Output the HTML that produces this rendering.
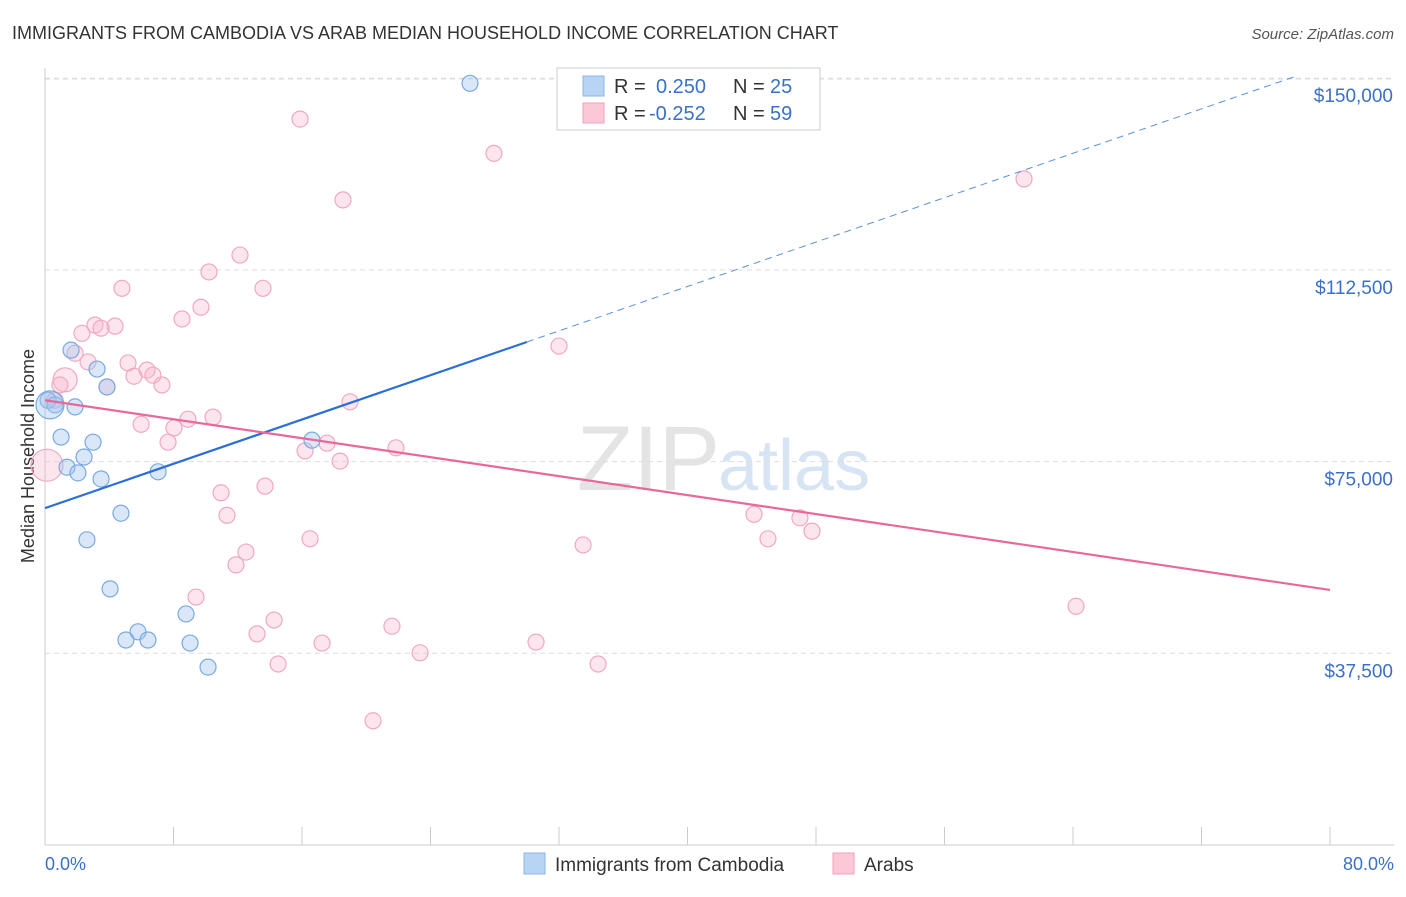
<!DOCTYPE html>
<html><head><meta charset="utf-8"><style>
body{margin:0;background:#fff;font-family:"Liberation Sans",sans-serif;}
svg text{font-family:"Liberation Sans",sans-serif;}
</style></head><body>
<svg id="c" width="1406" height="892">
<text x="12" y="39" font-size="18" fill="#333">IMMIGRANTS FROM CAMBODIA VS ARAB MEDIAN HOUSEHOLD INCOME CORRELATION CHART</text>
<text x="1394" y="39" font-size="15" fill="#555" font-style="italic" text-anchor="end">Source: ZipAtlas.com</text>
<text x="720" y="490" font-size="92" fill="#e4e4e4" text-anchor="end" font-family="Liberation Serif">ZIP</text>
<text x="718" y="490" font-size="72" fill="#d6e4f4">atlas</text>
<g id="grid"></g>
<line x1="45" y1="68" x2="45" y2="845" stroke="#ccc"/>
<line x1="45" y1="845" x2="1394" y2="845" stroke="#ccc"/>
<text x="34" y="456" font-size="18" fill="#333" text-anchor="middle" transform="rotate(-90 34 456)">Median Household Income</text>
<text x="45" y="870" font-size="18" fill="#3a70c8">0.0%</text>
<text x="1394" y="870" font-size="18" fill="#3a70c8" text-anchor="end">80.0%</text>
<g id="marks"></g>
<g>
<rect x="557" y="68" width="263" height="62" fill="#fff" stroke="#ccc"/>
<rect x="583" y="76" width="21" height="20" fill="#b8d4f4" stroke="#8cb4e8"/>
<rect x="583" y="103" width="21" height="20" fill="#fcc8d8" stroke="#f0a0bc"/>
<text x="614" y="93" font-size="20" fill="#333">R =</text><text x="656" y="93" font-size="20" fill="#3a70c8">0.250</text>
<text x="733" y="93" font-size="20" fill="#333">N =</text><text x="770" y="93" font-size="20" fill="#3a70c8">25</text>
<text x="614" y="120" font-size="20" fill="#333">R =</text><text x="649" y="120" font-size="20" fill="#3a70c8">-0.252</text>
<text x="733" y="120" font-size="20" fill="#333">N =</text><text x="770" y="120" font-size="20" fill="#3a70c8">59</text>
</g>
<g>
<rect x="524" y="853" width="21" height="21" fill="#b8d4f4" stroke="#8cb4e8"/>
<text x="555" y="871" font-size="19" fill="#333">Immigrants from Cambodia</text>
<rect x="833" y="853" width="21" height="21" fill="#fcc8d8" stroke="#f0a0bc"/>
<text x="864" y="871" font-size="19" fill="#333">Arabs</text>
</g>
</svg>
<script>
const yTicks=[37500,75000,112500,150000];
const yTickLabels=["$37,500","$75,000","$112,500","$150,000"];
const xTicks=[0,8,16,24,32,40,48,56,64,72,80];
const blueX=[26.46,1.62,3.24,3.86,0.19,0.62,1.87,1.0,2.99,16.62,1.37,2.43,2.05,3.49,7.04,4.73,2.61,4.05,8.78,5.79,5.04,6.41,9.03,10.15,0.31];
const blueY=[149000,96800,93100,89600,87000,86100,85700,79800,78800,79200,73900,75900,72800,71600,73000,64900,59700,50100,45200,41700,40100,40100,39500,34800,86100];
const blueR=[8,8,8,8,8,8,8,8,8,8,8,8,8,8,8,8,8,8,8,8,8,8,8,8,14];
const pinkX=[15.88,27.95,18.55,60.95,12.14,10.21,4.79,13.57,9.71,8.53,3.11,4.36,2.30,3.49,32.0,1.87,2.68,5.17,6.35,6.72,5.54,7.28,3.86,1.25,0.93,18.99,8.90,10.46,5.98,8.03,7.66,17.56,16.19,21.85,18.37,0.12,10.96,13.70,11.33,44.14,47.0,47.75,45.01,16.5,33.5,12.51,11.89,9.40,64.19,14.26,13.2,21.6,17.25,30.57,23.35,14.51,34.43,20.42,0.62];
const pinkY=[142000,135300,126200,130300,115400,112100,108900,108900,105200,102900,101700,101500,100100,101100,97600,96200,94500,94300,92900,91900,91700,90000,89600,91000,90000,86700,83300,83700,82300,81600,78800,78600,77100,77700,75100,74300,68900,70200,64500,64700,64000,61400,59900,59900,58700,57300,54800,48500,46700,44000,41300,42800,39500,39700,37600,35400,35400,24300,87000];
const pinkR=pinkX.map((_,i)=>i==35?16:(i==23?12:8));
const blueLine=[[0,65900],[30,98400]], blueDash=[[30,98400],[77.8,150300]];
const pinkLine=[[0,87000],[80,49900]];
const X=v=>45+v/80*1285, Y=v=>845-v/37500*191.7;
const ns="http://www.w3.org/2000/svg";
const grid=document.getElementById('grid'), marks=document.getElementById('marks');
function mk(tag,at,par){const e=document.createElementNS(ns,tag);for(const k in at)e.setAttribute(k,at[k]);par.appendChild(e);return e;}
yTicks.forEach((t,i)=>{
 const l=mk('line',{x1:45,x2:1394,y1:Y(t),y2:Y(t),stroke:'#ddd','stroke-dasharray':'5,4'},grid);
 
 
 const tx=mk('text',{x:1393,y:Y(t)+24,'font-size':19,fill:'#3a70c8','text-anchor':'end'},grid);
 tx.textContent=yTickLabels[i];
 
 
});
xTicks.forEach(t=>{
 const l=mk('line',{x1:X(t),x2:X(t),y1:827,y2:845,stroke:'#ccc'},grid);
 
 
});
const gl=mk('line',{x1:45,x2:1394,y1:79,y2:79,stroke:'#ddd','stroke-dasharray':'5,4'},grid);


pinkX.forEach((x,i)=>{
 const c=mk('circle',{cx:X(x),cy:Y(pinkY[i]),r:pinkR[i],fill:'rgba(248,180,204,0.35)',stroke:'#f0a8c2','stroke-width':1.2},marks);
 
 
});
blueX.forEach((x,i)=>{
 const c=mk('circle',{cx:X(x),cy:Y(blueY[i]),r:blueR[i],fill:'rgba(160,196,240,0.4)',stroke:'#7aaae0','stroke-width':1.2},marks);
 
 
});
const b=mk('line',{x1:X(blueLine[0][0]),y1:Y(blueLine[0][1]),x2:X(blueLine[1][0]),y2:Y(blueLine[1][1]),stroke:'#2a6fd6','stroke-width':2.2},marks);


const bd=mk('line',{x1:X(blueDash[0][0]),y1:Y(blueDash[0][1]),x2:X(blueDash[1][0]),y2:Y(blueDash[1][1]),stroke:'#5a90dc','stroke-width':1,'stroke-dasharray':'7,5'},marks);


const p=mk('line',{x1:X(pinkLine[0][0]),y1:Y(pinkLine[0][1]),x2:X(pinkLine[1][0]),y2:Y(pinkLine[1][1]),stroke:'#e8689a','stroke-width':2.2},marks);


</script>
</body></html>
